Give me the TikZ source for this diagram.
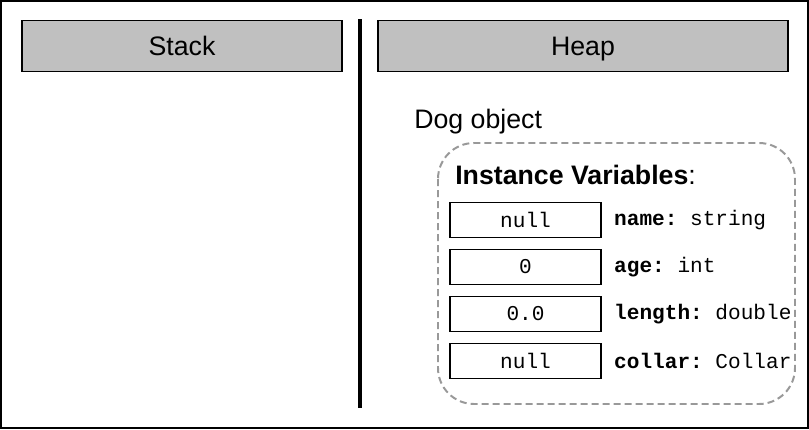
\documentclass[tikz,border=0pt]{standalone}
\usepackage{fontspec}
\setmainfont{Liberation Sans}
\setmonofont{Liberation Mono}
\usetikzlibrary{positioning}
\definecolor{hdrgray}{HTML}{C0C0C0}
\definecolor{dashgray}{HTML}{999999}
\begin{document}
\begin{tikzpicture}[x=0.025cm, y=-0.025cm,
  every node/.style={font=\fontsize{19}{22}\selectfont},
  header/.style={draw, fill=hdrgray, line width=1pt, minimum height=1.275cm, inner sep=0pt, text height=13.6pt, text depth=0pt},
  valbox/.style={draw, line width=1.3pt, minimum width=3.775cm, minimum height=0.875cm, inner sep=0pt, font=\ttfamily\fontsize{15}{17}\selectfont},
  field/.style={inner sep=0pt, font=\ttfamily\fontsize{15}{17}\selectfont}]

\useasboundingbox (0,0) rectangle (809,429);
% outer frame
\draw[line width=1.4pt] (1,1) rectangle (808,428);

% --- headers ---
\node[header, minimum width=8cm] (stack) at (182,46) {Stack};
\node[header, minimum width=10.25cm] (heap) at (583,46) {Heap};

% divider between stack and heap
\coordinate (divtop) at (360,19);
\coordinate (divbot) at (360,408);
\draw[line width=2.2pt] (divtop) -- (divbot);

% --- Dog object on the heap ---
\node[anchor=west, inner sep=0pt] (dog) at (414,122) {Dog object};
\draw[dashgray, line width=1.4pt, dash pattern=on 0.175cm off 0.1cm, rounded corners=0.9cm]
  (438,143) rectangle (795,404);
\node[anchor=west, inner sep=0pt] (ivars) at (455,175) {\textbf{Instance Variables}:};

% instance variable slots
\foreach \val/\fname/\ftype [count=\i from 0] in {null/name/string, 0/age/int, 0.0/length/double, null/collar/Collar} {
    \node[valbox] (val\i) at (525.5, {220+47*\i}) {\val};
    \node[field, right=0.3cm of val\i] (fld\i) {\textbf{\fname:} \ftype};
}

\end{tikzpicture}
\end{document}
